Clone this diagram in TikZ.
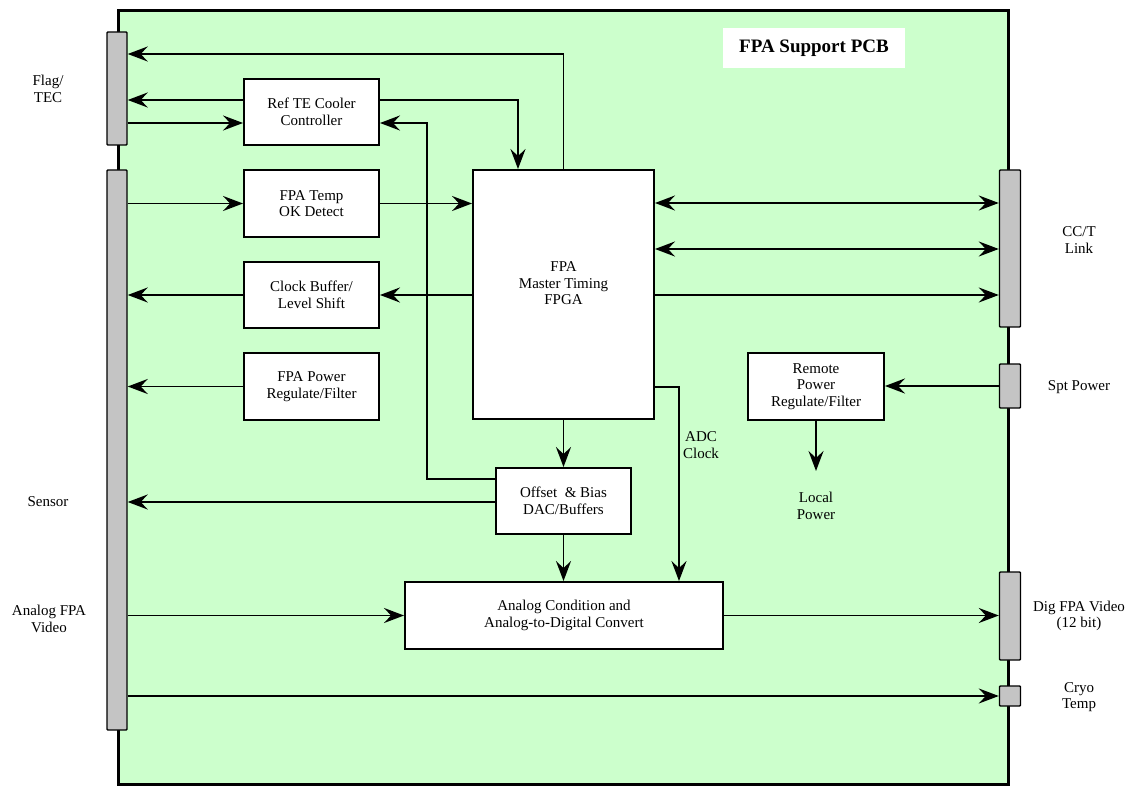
\documentclass[tikz,border=0pt]{standalone}
\usepackage{fontspec}
\setmainfont{Liberation Serif}
\usetikzlibrary{arrows.meta}
\definecolor{boardgreen}{HTML}{CCFFCC}
\definecolor{conngray}{HTML}{C4C4C4}
\newcommand\dfont{\fontsize{15}{16.5}\selectfont}
\tikzset{
  blk/.style={draw, line width=1.9pt, fill=white, inner sep=0pt, align=center, font=\dfont},
  conn/.style={draw, line width=1.4pt, fill=conngray, inner sep=0pt, rounded corners=0.8pt},
  lbl/.style={inner sep=0pt, align=center, font=\dfont},
  tip/.tip={Stealth[length=20pt,width=15pt,inset=7pt]},
  arr/.style={line width=1.9pt, -tip},
  darr/.style={line width=1.9pt, tip-tip},
}
\begin{document}
\begin{tikzpicture}[x=1pt,y=-1pt]
\useasboundingbox (0,0) rectangle (1130,786);
% board
\node[draw, fill=boardgreen, line width=3pt, minimum width=890, minimum height=773, inner sep=0pt] (board) at (563,397.5) {};
\node[fill=white, minimum width=182, minimum height=40, inner sep=0pt, font=\bfseries\fontsize{19}{21}\selectfont] (title) at (814,48) {FPA Support PCB};
% connectors
\node[conn, minimum width=20, minimum height=113] (flagc) at (117,88.5) {};
\node[conn, minimum width=20, minimum height=560] (sensc) at (117,450) {};
\node[conn, minimum width=21, minimum height=157] (cctc) at (1010,248.5) {};
\node[conn, minimum width=21, minimum height=44] (sptc) at (1010,386) {};
\node[conn, minimum width=21, minimum height=88] (digc) at (1010,616) {};
\node[conn, minimum width=21, minimum height=20] (cryoc) at (1010,696) {};
% outside labels
\node[lbl] (flagl) at (48,89) {Flag/\\TEC};
\node[lbl] (sensl) at (48,502) {Sensor};
\node[lbl] (anal) at (49,619) {Analog FPA\\Video};
\node[lbl] (cctl) at (1079,240) {CC/T\\Link};
\node[lbl] (sptl) at (1079,387) {Spt Power};
\node[lbl] (digl) at (1079,616) {Dig FPA Video\\(12 bit)};
\node[lbl] (cryol) at (1079,697) {Cryo\\Temp};
% blocks
\node[blk, minimum width=135, minimum height=66] (reft) at (311.5,112) {Ref TE Cooler\\Controller};
\node[blk, minimum width=135, minimum height=67] (temp) at (311.5,203.5) {FPA Temp\\OK Detect};
\node[blk, minimum width=135, minimum height=66] (clk) at (311.5,295) {Clock Buffer/\\Level Shift};
\node[blk, minimum width=135, minimum height=67] (pwr) at (311.5,386.5) {FPA Power\\Regulate/Filter};
\node[blk, minimum width=181, minimum height=249,
      label={[lbl, yshift=11pt]center:FPA\\Master Timing\\FPGA}] (fpga) at (563.5,294.5) {};
\node[blk, minimum width=135, minimum height=66] (offset) at (563.5,501) {Offset\ \ \& Bias\\DAC/Buffers};
\node[blk, minimum width=318, minimum height=67] (adc) at (564,615.5) {Analog Condition and\\Analog-to-Digital Convert};
\node[blk, minimum width=136, minimum height=67] (remote) at (816,386.5) {Remote\\Power\\Regulate/Filter};
\node[lbl] (adcl) at (701,445) {ADC\\Clock};
\node[lbl] (locl) at (816,506) {Local\\Power};
\coordinate (localp) at (816,471);
% connectors / wires
\draw[arr] (fpga.north) |- (flagc.east |- 0,54);
\draw[arr] (reft.west |- 0,100) -- (flagc.east |- 0,100);
\draw[arr] (flagc.east |- 0,123) -- (reft.west |- 0,123);
\draw[arr] (reft.east |- 0,100) -| (fpga.north -| 518,0);
\draw[arr] (offset.west |- 0,479) -| (427,123) -- (reft.east |- 0,123);
\draw[arr] (sensc.east |- temp.west) -- (temp.west);
\draw[arr] (temp.east) -- (fpga.west |- temp.east);
\draw[darr] (fpga.east |- 0,203) -- (cctc.west |- 0,203);
\draw[darr] (fpga.east |- 0,249) -- (cctc.west |- 0,249);
\draw[arr] (fpga.east |- 0,295) -- (cctc.west |- 0,295);
\draw[arr] (fpga.west |- clk.east) -- (clk.east);
\draw[arr] (clk.west) -- (sensc.east |- clk.west);
\draw[arr] (pwr.west) -- (sensc.east |- pwr.west);
\draw[arr] (offset.west |- 0,502) -- (sensc.east |- 0,502);
\draw[arr] (fpga.south) -- (offset.north);
\draw[arr] (offset.south) -- (adc.north -| offset.south);
\draw[arr] (fpga.east |- 0,387) -| (adc.north -| 679,0);
\draw[arr] (sptc.west) -- (remote.east |- sptc.west);
\draw[arr] (remote.south) -- (localp);
\draw[arr] (sensc.east |- adc.west) -- (adc.west);
\draw[arr] (adc.east) -- (digc.west |- adc.east);
\draw[arr] (sensc.east |- cryoc.west) -- (cryoc.west);
\end{tikzpicture}
\end{document}
